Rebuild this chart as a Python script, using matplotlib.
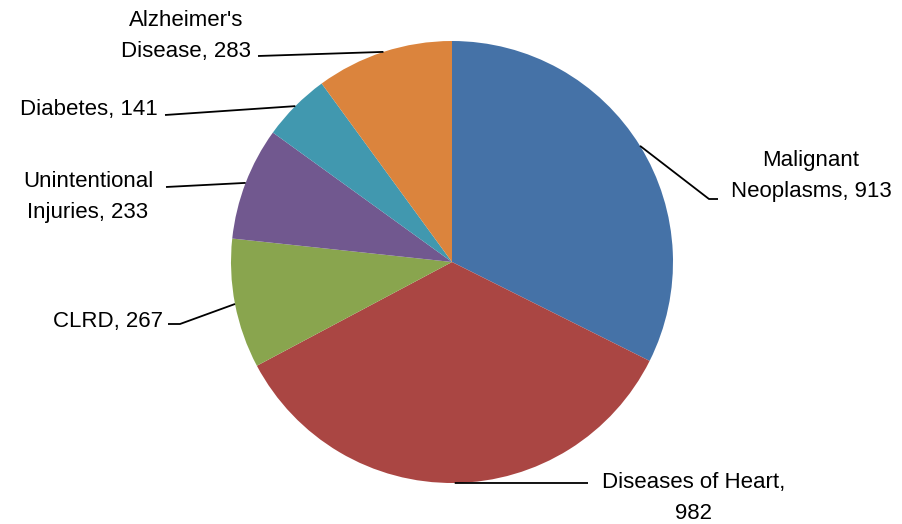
import matplotlib
matplotlib.use("Agg")
import matplotlib.pyplot as plt
import numpy as np

names = ["Malignant Neoplasms", "Diseases of Heart", "CLRD", "Unintentional Injuries", "Diabetes", "Alzheimer's Disease"]
values = [913, 982, 267, 233, 141, 283]
label_texts = ["Malignant\nNeoplasms, 913", "Diseases of Heart,\n982", "CLRD, 267",
               "Unintentional\nInjuries, 233", "Diabetes, 141", "Alzheimer's\nDisease, 283"]
colors = ["#4572A7", "#AA4643", "#89A54E", "#71588F", "#4198AF", "#DB843D"]

W, H = 902, 524
fig = plt.figure(figsize=(W / 100, H / 100), dpi=100)
ax = fig.add_axes([0, 0, 1, 1])

def Y(py):
    return H - py

cx, cy, r = 452, Y(262), 221
wedges, _ = ax.pie(values, colors=colors, startangle=90, counterclock=False,
                   center=(cx, cy), radius=r, frame=True,
                   wedgeprops=dict(linewidth=0))
ax.set_xlim(0, W)
ax.set_ylim(0, H)
ax.set_aspect("equal")
ax.axis("off")

# label layout (pixel coordinates): text anchor, alignment, leader path points
layout = [
    dict(xy=(811, 176), ha="center", path=[(709, 199), (718, 199)]),
    dict(xy=(694, 498), ha="center", path=[(588, 483)]),
    dict(xy=(163, 322), ha="right", path=[(180, 324), (168, 324)]),
    dict(xy=(88, 197), ha="center", path=[(166, 187)]),
    dict(xy=(158, 110), ha="right", path=[(165, 115)]),
    dict(xy=(186, 36), ha="center", path=[(258, 56)]),
]

font = dict(family=["Liberation Sans", "DejaVu Sans"], size=16, color="#000000")
for w, txt, lay in zip(wedges, label_texts, layout):
    mid = np.deg2rad((w.theta1 + w.theta2) / 2)
    sx = w.center[0] + w.r * np.cos(mid)
    sy = w.center[1] + w.r * np.sin(mid)
    xs = [sx] + [p[0] for p in lay["path"]]
    ys = [sy] + [Y(p[1]) for p in lay["path"]]
    ax.plot(xs, ys, color="black", linewidth=1.3, solid_capstyle="butt")
    ax.text(lay["xy"][0], Y(lay["xy"][1]), txt, ha=lay["ha"], va="center",
            multialignment="center", linespacing=1.6, **font)

fig.savefig("out.png", dpi=100)
